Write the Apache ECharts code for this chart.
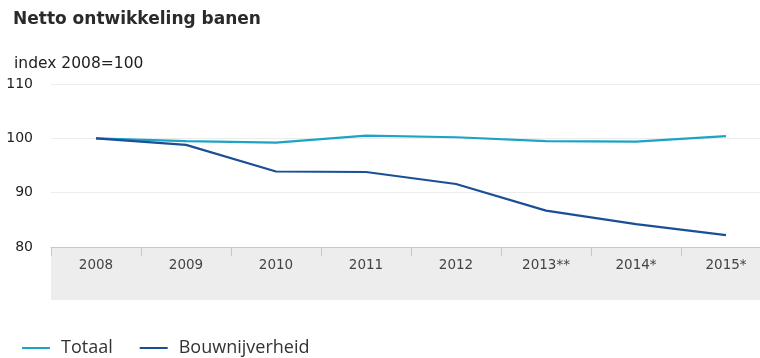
<!DOCTYPE html>
<html><head><meta charset="utf-8">
<script src="https://cdn.jsdelivr.net/npm/echarts@6/dist/echarts.min.js"></script>
<style>html,body{margin:0;padding:0;background:#fff}#c{width:760px;height:358px}</style>
</head><body><div id="c"></div>
<script>
const categories = ['2008','2009','2010','2011','2012','2013**','2014*','2015*'];
const totaal = [100, 99.5, 99.2, 100.5, 100.2, 99.5, 99.4, 100.4];
const bouwnijverheid = [100, 98.8, 93.9, 93.8, 91.6, 86.7, 84.2, 82.2];
const yTicks = [80, 90, 100, 110];

const chart = echarts.init(document.getElementById('c'));
chart.setOption({
  animation: false,
  textStyle: {fontFamily: 'DejaVu Sans'},
  title: [
    {text: 'Netto ontwikkeling banen', left: 13, top: 11, padding: 0,
     textStyle: {fontFamily: 'DejaVu Sans', fontSize: 17, fontWeight: 'bold', color: '#2a2a2a'}},
    {text: 'index 2008=100', left: 14, top: 56, padding: 0,
     textStyle: {fontFamily: 'DejaVu Sans', fontSize: 15.5, fontWeight: 'normal', color: '#222'}}
  ],
  graphic: [{type: 'rect', left: 51, top: 247, z: -1, shape: {width: 720, height: 53}, style: {fill: '#ededed'}}],
  legend: {
    left: 22, top: 339, padding: 0, itemWidth: 28, itemHeight: 2, itemGap: 27,
    icon: 'rect',
    textStyle: {fontFamily: 'Open Sans', fontSize: 18, color: '#333', padding: [0,0,0,6]},
    data: ['Totaal', 'Bouwnijverheid']
  },
  grid: {left: 51, width: 720, top: 84, height: 163, containLabel: false, outerBoundsMode: 'none'},
  xAxis: {
    type: 'category', data: categories, boundaryGap: true,
    axisLine: {lineStyle: {color: '#c8c8c8'}},
    axisTick: {show: true, length: 9, inside: false, lineStyle: {color: '#c8c8c8'}},
    axisLabel: {color: '#444', fontSize: 13.5, margin: 11}
  },
  yAxis: {
    type: 'value', min: yTicks[0], max: yTicks[yTicks.length-1], interval: 10,
    axisLine: {show: false}, axisTick: {show: false},
    axisLabel: {color: '#222', fontSize: 14, margin: 18},
    splitLine: {lineStyle: {color: '#ececec'}}
  },
  series: [
    {name: 'Totaal', type: 'line', data: totaal, symbol: 'none',
     lineStyle: {width: 2.2, color: '#1ca3c6'}, itemStyle: {color: '#1ca3c6'}},
    {name: 'Bouwnijverheid', type: 'line', data: bouwnijverheid, symbol: 'none',
     lineStyle: {width: 2.2, color: '#1b4f95'}, itemStyle: {color: '#1b4f95'}}
  ]
});
</script></body></html>
